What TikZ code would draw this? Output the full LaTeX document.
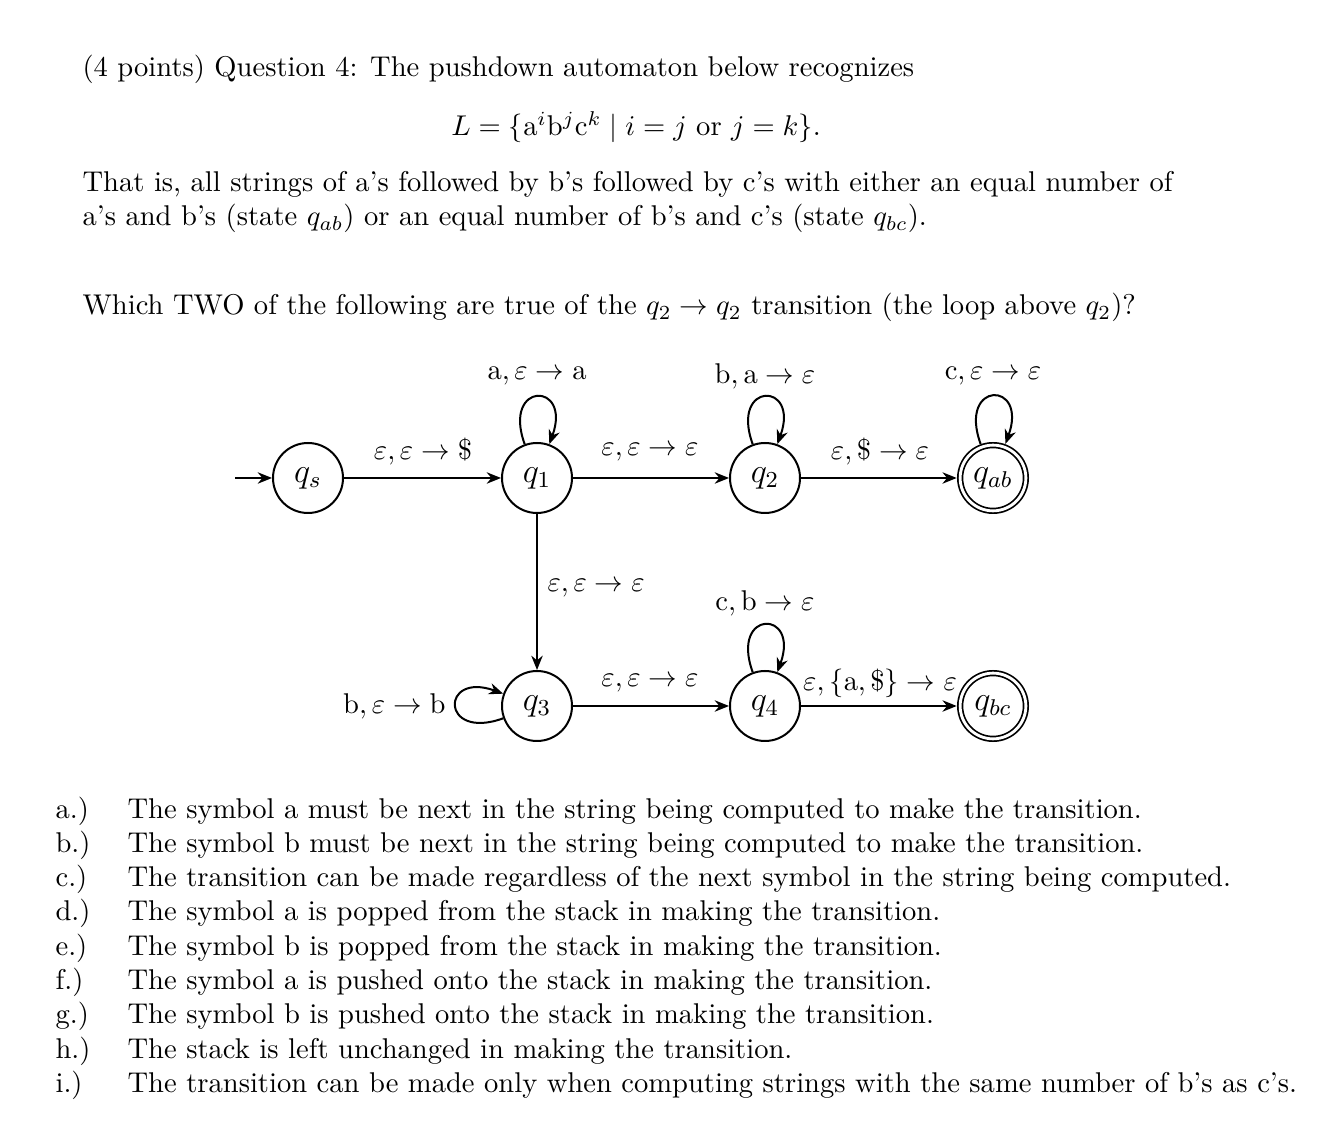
\documentclass[tikz,border=0pt]{standalone}
\usetikzlibrary{arrows.meta}
\begin{document}
\begin{tikzpicture}[x=0.35pt,y=-0.35pt,
  st/.style={circle,draw,line width=0.7pt,minimum size=24.5pt,inner sep=0pt,font=\large},
  acc/.style={circle,draw,line width=0.6pt,double,double distance=1pt,minimum size=23pt,inner sep=0pt,outer sep=1.2pt,font=\large},
  tr/.style={-{Stealth[length=5pt,width=4pt]}, line width=0.7pt},
  lp/.style={tr,looseness=7},
  txt/.style={anchor=base west,inner sep=0pt},
  lab/.style={inner sep=0pt}
]
\useasboundingbox (0,0) rectangle (1344,1134);
% text
\node[txt] (t1) at (82,77) {(4 points) Question 4: The pushdown automaton below recognizes};
\node[inner sep=0pt,anchor=base] (t2) at (636,136) {$L=\{\mathrm{a}^i\mathrm{b}^j\mathrm{c}^k \mid i=j\mbox{ or }j=k\}.$};
\node[txt] (t3) at (82,192) {That is, all strings of a's followed by b's followed by c's with either an equal number of};
\node[txt] (t4) at (82,226) {a's and b's (state $q_{ab}$) or an equal number of b's and c's (state $q_{bc}$).};
\node[txt] (t5) at (82,315) {Which TWO of the following are true of the $q_2\to q_2$ transition (the loop above $q_2$)?};
% states
\node[st] (qs) at (308,478) {$q_s$};
\node[st] (q1) at (537,478) {$q_1$};
\node[st] (q2) at (765,478) {$q_2$};
\node[acc] (qab) at (993,478) {$q_{ab}$};
\node[st] (q3) at (537,706) {$q_3$};
\node[st] (q4) at (765,706) {$q_4$};
\node[acc] (qbc) at (993,706) {$q_{bc}$};
\coordinate (start) at (235,478);
% edges
\draw[tr] (start) -- (qs);
\draw[tr] (qs) -- (q1);
\draw[tr] (q1) -- (q2);
\draw[tr] (q2) -- (qab);
\draw[tr] (q1) -- (q3);
\draw[tr] (q3) -- (q4);
\draw[tr] (q4) -- (qbc);
% loops
\draw[lp] (q1) to[out=110,in=70] (q1);
\draw[lp] (q2) to[out=110,in=70] (q2);
\draw[lp] (qab) to[out=110,in=70] (qab);
\draw[lp] (q4) to[out=110,in=70] (q4);
\draw[lp] (q3) to[out=200,in=160] (q3);
% labels
\node[lab] (l1) at (423,452) {$\varepsilon,\varepsilon\to\$$};
\node[lab] (l2) at (537,376) {$\mathrm{a},\varepsilon\to\mathrm{a}$};
\node[lab] (l3) at (650,452) {$\varepsilon,\varepsilon\to\varepsilon$};
\node[lab] (l4) at (765,376) {$\mathrm{b},\mathrm{a}\to\varepsilon$};
\node[lab] (l5) at (880,452) {$\varepsilon,\$\to\varepsilon$};
\node[lab] (l6) at (993,376) {$\mathrm{c},\varepsilon\to\varepsilon$};
\node[lab,anchor=west] (l7) at (547,588) {$\varepsilon,\varepsilon\to\varepsilon$};
\node[lab] (l8) at (765,603) {$\mathrm{c},\mathrm{b}\to\varepsilon$};
\node[lab] (l9) at (650,683) {$\varepsilon,\varepsilon\to\varepsilon$};
\node[lab] (l10) at (880,683) {$\varepsilon,\{\mathrm{a},\$\}\to\varepsilon$};
\node[lab,anchor=east] (l11) at (446,706) {$\mathrm{b},\varepsilon\to\mathrm{b}$};
% items
\foreach \k/\l/\t [count=\i from 0] in {
 a/a.)/{The symbol a must be next in the string being computed to make the transition.},
 b/b.)/{The symbol b must be next in the string being computed to make the transition.},
 c/c.)/{The transition can be made regardless of the next symbol in the string being computed.},
 d/d.)/{The symbol a is popped from the stack in making the transition.},
 e/e.)/{The symbol b is popped from the stack in making the transition.},
 f/f.)/{The symbol a is pushed onto the stack in making the transition.},
 g/g.)/{The symbol b is pushed onto the stack in making the transition.},
 h/h.)/{The stack is left unchanged in making the transition.},
 i/i.)/{The transition can be made only when computing strings with the same number of b's as c's.}}
{
  \node[txt] (m\k) at (55,818+34.3*\i) {\l};
  \node[txt] (n\k) at (127,818+34.3*\i) {\t};
}
\end{tikzpicture}
\end{document}
